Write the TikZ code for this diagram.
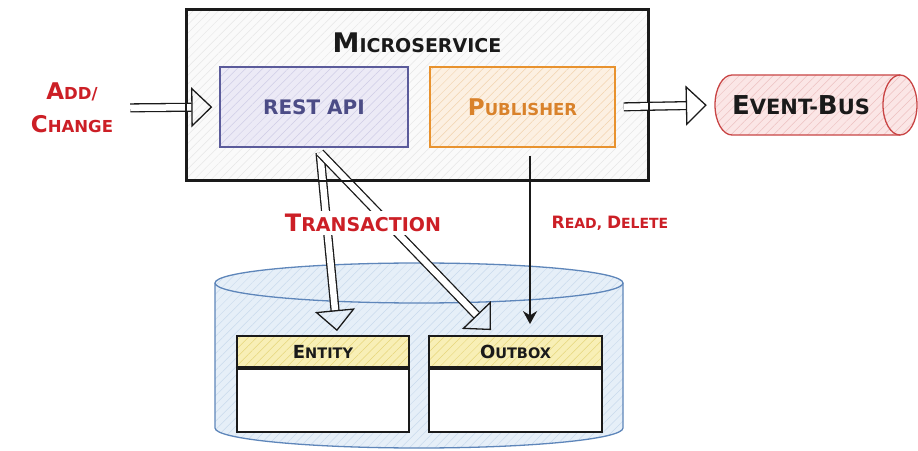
\documentclass[tikz,border=0pt]{standalone}
\usepackage{fontspec}
\setmainfont{DejaVu Sans}
\usetikzlibrary{arrows.meta,shapes.geometric,patterns.meta,calc}
\definecolor{redtxt}{HTML}{CC1F26}
\definecolor{apiline}{HTML}{5B5B9B}
\definecolor{apifill}{HTML}{ECEAF6}
\definecolor{apihatch}{HTML}{CFCCE6}
\definecolor{apitxt}{HTML}{4C4C86}
\definecolor{publine}{HTML}{E8922E}
\definecolor{pubfill}{HTML}{FCF0E2}
\definecolor{pubhatch}{HTML}{F2D3AE}
\definecolor{pubtxt}{HTML}{D9822B}
\definecolor{busline}{HTML}{C94545}
\definecolor{busfill}{HTML}{FBE6E6}
\definecolor{bushatch}{HTML}{EDC0C0}
\definecolor{dbline}{HTML}{5E86BA}
\definecolor{dbfill}{HTML}{E6EFF8}
\definecolor{dbhatch}{HTML}{C9DAEC}
\definecolor{hdfill}{HTML}{F8EFB6}
\definecolor{hdhatch}{HTML}{E6D67A}
\definecolor{msfill}{HTML}{FAFAFA}
\definecolor{mshatch}{HTML}{E6E6E6}
\definecolor{inktxt}{HTML}{1A1A1A}
\newcommand\SC[4]{{\fontsize{#1}{#1}\selectfont #3}{\fontsize{#2}{#2}\selectfont #4}}
\tikzset{
  hatch/.style 2 args={preaction={fill=#1},preaction={pattern={Lines[angle=45,distance=6pt,line width=0.5pt]},pattern color=#2}},
  msbox/.style={draw=inktxt,line width=2.2pt,hatch={msfill}{mshatch},inner sep=0pt},
  compbox/.style={line width=1.4pt,inner sep=0pt,minimum width=#1,minimum height=80pt,font=\bfseries},
  hdbox/.style={draw=inktxt,line width=1.8pt,hatch={hdfill}{hdhatch},minimum width=#1,minimum height=31pt,inner sep=0pt,font=\bfseries,text=inktxt},
  bodybox/.style={draw=inktxt,line width=1.8pt,fill=white,minimum width=#1,minimum height=63pt,inner sep=0pt},
  lbl/.style={font=\bfseries,text=redtxt,inner sep=0pt},
  hollow/.style={draw=inktxt,double=white,double distance=6.5pt,line width=1.3pt,
    -{Triangle[open,length=21pt,width=40pt,line width=1.3pt]}},
  solidarrow/.style={draw=inktxt,line width=1.8pt,-{Stealth[length=13pt,width=14pt]}}
}
\begin{document}
\begin{tikzpicture}[x=1pt,y=1pt]
\useasboundingbox (0,0) rectangle (918,450);
\fill[white] (0,0) rectangle (918,450);

% database cylinder
\path[hatch={dbfill}{dbhatch}] (215,167) -- (215,22) arc[start angle=180,end angle=360,x radius=204,y radius=20] -- (623,167) arc[start angle=0,end angle=180,x radius=204,y radius=20] -- cycle;
\draw[dbline,line width=1.3pt] (215,167) -- (215,22) arc[start angle=180,end angle=360,x radius=204,y radius=20] -- (623,167);
\draw[dbline,line width=1.3pt] (419,167) ellipse[x radius=204,y radius=20];

% tables
\node[hdbox=172pt] (enth) at (323,98.5) {\SC{18}{14.5}{E}{NTITY}};
\node[bodybox=172pt,anchor=north] (entb) at (enth.south) {};
\node[hdbox=173pt] (outh) at (515.5,98.5) {\SC{18}{14.5}{O}{UTBOX}};
\node[bodybox=173pt,anchor=north] (outb) at (outh.south) {};

% microservice
\node[msbox,minimum width=461pt,minimum height=170pt] (ms) at (417.5,355) {};
\node[text=inktxt,font=\bfseries,inner sep=0pt] (mstitle) at (417,407) {\SC{27}{19}{M}{ICROSERVICE}};
\node[compbox=188pt,draw=apiline,hatch={apifill}{apihatch},text=apitxt] (api) at (314,343) {\fontsize{20}{20}\selectfont REST API};
\node[compbox=185pt,draw=publine,hatch={pubfill}{pubhatch},text=pubtxt] (pub) at (522.5,343) {\SC{23}{16.5}{P}{UBLISHER}};

% event bus (horizontal cylinder)
\node[minimum width=202pt,minimum height=60pt,inner sep=0pt] (bus) at (816,345) {};
\path[hatch={busfill}{bushatch}] (732,375) arc[start angle=90,end angle=270,x radius=17,y radius=30] -- (900,315) arc[start angle=-90,end angle=90,x radius=17,y radius=30] -- cycle;
\draw[busline,line width=1.3pt] (900,375) -- (732,375) arc[start angle=90,end angle=270,x radius=17,y radius=30] -- (900,315);
\draw[busline,line width=1.3pt] (900,345) ellipse[x radius=17,y radius=30];
\node[text=inktxt,font=\bfseries,inner sep=0pt] (bustxt) at (801,345) {\SC{26}{21}{E}{VENT-}\SC{26}{21}{B}{US}};

% side labels
\node[lbl,align=center,font=\bfseries\fontsize{16.5}{33}\selectfont] (add) at (72,342) {\SC{23}{16.5}{A}{DD/}\\\SC{23}{16.5}{C}{HANGE}};
\node[lbl] (rd) at (610,227) {\SC{17}{14}{R}{EAD, }\SC{17}{14}{D}{ELETE}};

% connectors
\draw[hollow,shorten <=17pt,shorten >=7pt] (add.east) -- (api.west);
\draw[hollow,shorten <=8pt,shorten >=8pt] (pub.east) -- (bus.west);
\draw[hollow] ([xshift=6pt,yshift=-5pt]api.south) -- ([xshift=14pt,yshift=4pt]enth.north);
\draw[hollow] ([xshift=6pt,yshift=-5pt]api.south) -- ([xshift=-24.5pt,yshift=5pt]outh.north);
\draw[solidarrow] ([xshift=7.5pt,yshift=-8pt]pub.south) -- ([xshift=14.5pt,yshift=11pt]outh.north);

% microservice border on top
\draw[inktxt,line width=2.2pt] (ms.north west) rectangle (ms.south east);

% transaction label over the arrows
\node[lbl,fill=white,inner sep=3pt] (trans) at (363,227) {\SC{24}{19}{T}{RANSACTION}};
\end{tikzpicture}
\end{document}
